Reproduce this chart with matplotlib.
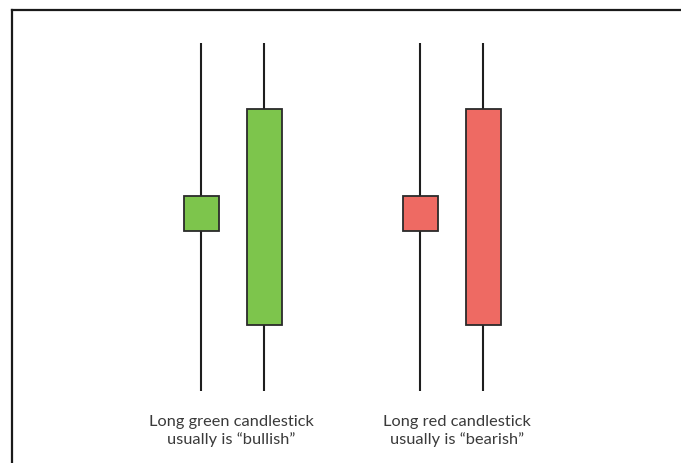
import matplotlib
matplotlib.use("Agg")
import matplotlib.pyplot as plt
from matplotlib.patches import Rectangle
from matplotlib.lines import Line2D

# Data (price units)
candles = ["small green", "long green", "small red", "long red"]
highs = [100, 100, 100, 100]
lows = [0, 0, 0, 0]
opens = [46, 19, 56, 81]
closes = [56, 81, 46, 19]
labels = ["Long green candlestick\nusually is \u201cbullish\u201d",
          "Long red candlestick\nusually is \u201cbearish\u201d"]

# Layout
W, H = 681, 464
xpos = [201, 264, 420, 483]
body_w = 35
green = "#7DC54C"
red = "#EE6A63"
label_x = [231, 457]

fig = plt.figure(figsize=(W / 100, H / 100), dpi=100)
ax = fig.add_axes([0, 0, 1, 1])
ax.set_xlim(0, W)
# map price 100 -> px 44 and 0 -> px 392
scale = (392 - 44) / 100.0
ax.set_ylim(-(H - 392) / scale, 392 / scale)
ax.axis("off")

for x, hi, lo, o, c in zip(xpos, highs, lows, opens, closes):
    col = green if c >= o else red
    ax.plot([x, x], [lo, hi], color="#1e1e1e", lw=1.5, solid_capstyle="butt", zorder=1)
    ax.add_patch(Rectangle((x - body_w / 2, min(o, c)), body_w, abs(c - o),
                           facecolor=col, edgecolor="#2a2a2a", lw=1.3, zorder=2))

for lx, lab in zip(label_x, labels):
    ax.text(lx, -(431 - 392) / scale, lab, ha="center", va="center",
            fontsize=11.8, family=["Lato", "DejaVu Sans"], fontweight="normal",
            color="#3a3a3a", linespacing=1.3)

# frame (left and top border)
fx = 11.5 / W
fy = 1 - 10.5 / H
fig.add_artist(Line2D([fx, fx], [0, fy], transform=fig.transFigure, color="#1a1a1a", lw=1.6))
fig.add_artist(Line2D([fx, 1], [fy, fy], transform=fig.transFigure, color="#1a1a1a", lw=1.6))

fig.savefig("out.png", dpi=100)
